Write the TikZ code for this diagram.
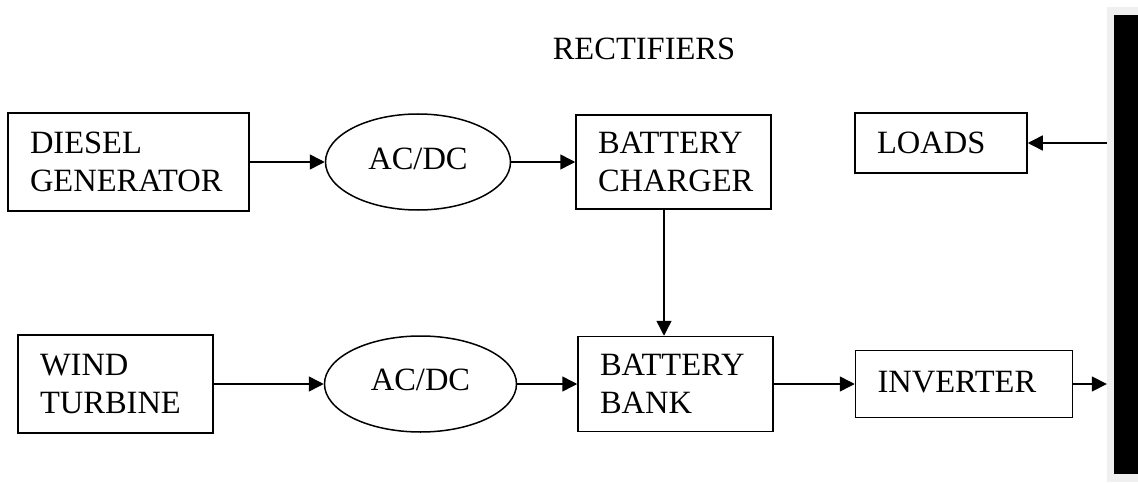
\documentclass[tikz,border=0pt]{standalone}
\usepackage{fontspec}
\setmainfont{Liberation Serif}
\usetikzlibrary{positioning, arrows.meta, shapes.geometric}

\begin{document}
\begin{tikzpicture}[x=1pt, y=1pt,
		% Define styles for the nodes
		blockbox/.style={
			rectangle, draw=black, line width=1.5pt, align=left,
			inner xsep=22pt, inner ysep=0pt,
			font=\fontsize{32.5}{38}\selectfont
		},
		convbox/.style={
			ellipse, draw=black, line width=1.5pt, inner sep=0pt,
			minimum height=96pt,
			font=\fontsize{32.5}{38}\selectfont
		},
		edge/.style={
			->, >={Triangle[length=15pt, width=15pt]}, line width=1.5pt
		}
		]
		
		\useasboundingbox (0,0) rectangle (1138,483);
		
		% Title over the rectifiers row
		\node[font=\fontsize{32.5}{38}\selectfont] (title) at (644,434) {RECTIFIERS};
		
		% Upper row
		\node[blockbox, text width=197pt, minimum height=98pt] (diesel) at (128.5,321) {DIESEL\\GENERATOR};
		\node[convbox, minimum width=185pt, right=75pt of diesel] (acdc1) {\raisebox{7pt}{AC/DC}};
		\node[blockbox, text width=151pt, minimum height=94pt, right=64pt of acdc1] (charger) {BATTERY\\CHARGER};
		\node[blockbox, text width=128pt, minimum height=60pt] (loads) at (941,340) {LOADS};
		
		% Lower row
		\node[blockbox, text width=151pt, minimum height=98pt] (wind) at (115.5,99) {WIND\\TURBINE};
		\node[convbox, minimum width=192pt, right=110pt of wind] (acdc2) {\raisebox{8pt}{AC/DC}};
		\node[blockbox, text width=151pt, minimum height=95pt, right=60pt of acdc2] (bank) {BATTERY\\BANK};
		\node[blockbox, text width=173pt, minimum height=67pt, right=81pt of bank] (inverter) {\raisebox{4pt}{INVERTER}};
		
		% Bus bar on the right
		\node[rectangle, fill=black!6, minimum width=31pt, minimum height=475pt, inner sep=0pt] (frame) at (1122.5,238.5) {};
		\node[rectangle, fill=black, minimum width=24pt, minimum height=459pt, inner sep=0pt] (bus) at (1126,238.5) {};
		
		% Draw connections
		\draw[edge] (diesel) -- (acdc1);
		\draw[edge] (acdc1) -- (charger);
		\draw[edge] ([xshift=-9.5pt]charger.south) -- ([xshift=-9.5pt]charger.south |- bank.north);
		\draw[edge] (wind) -- (acdc2);
		\draw[edge] (acdc2) -- (bank);
		\draw[edge] (bank) -- (inverter);
		\draw[edge] (inverter) -- (inverter -| frame.west);
		\draw[edge] (loads -| frame.west) -- (loads);
		
	\end{tikzpicture}
\end{document}
